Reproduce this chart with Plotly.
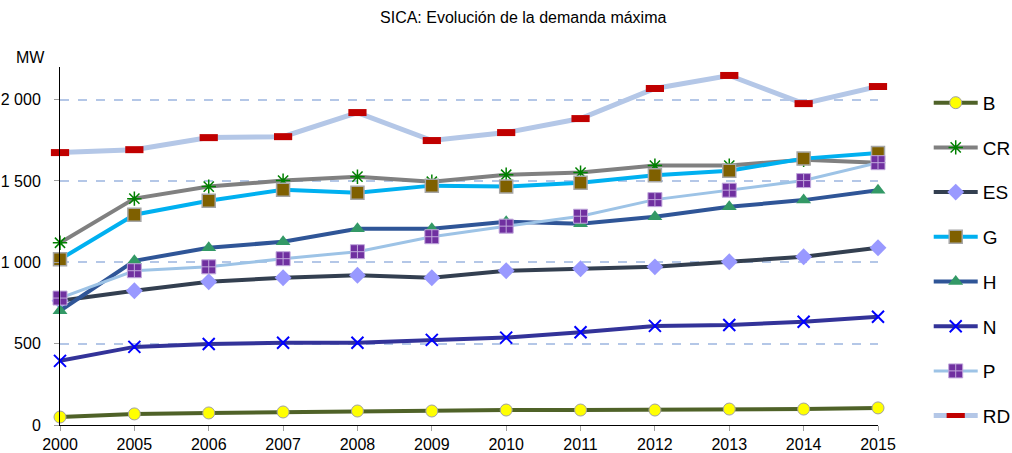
import plotly.graph_objects as go

years = ["2000", "2005", "2006", "2007", "2008", "2009", "2010", "2011", "2012", "2013", "2014", "2015"]

B  = [49, 68, 74, 80, 86, 86, 92, 92, 92, 98, 98, 105]
CR = [1120, 1391, 1465, 1502, 1526, 1495, 1538, 1551, 1594, 1594, 1630, 1612]
ES = [763, 825, 880, 905, 920, 905, 948, 960, 972, 1003, 1034, 1089]
G  = [1018, 1292, 1378, 1446, 1428, 1471, 1465, 1489, 1535, 1563, 1637, 1672]
H  = [702, 1009, 1089, 1126, 1206, 1206, 1249, 1237, 1280, 1341, 1382, 1443]
N  = [394, 480, 498, 505, 505, 523, 537, 570, 609, 615, 635, 665]
P  = [780, 948, 972, 1022, 1065, 1157, 1222, 1283, 1385, 1443, 1502, 1612]
RD = [1674, 1692, 1766, 1772, 1920, 1748, 1797, 1883, 2068, 2148, 1975, 2080]

ytick_vals = [0, 500, 1000, 1500, 2000]
ytick_text = ["0", "500", "1 000", "1 500", "2 000"]

series = [
    ("B", B, "#4f6228", 4, dict(symbol="circle", size=12, color="#ffff00", line=dict(color="#a0a0a0", width=1))),
    ("CR", CR, "#808080", 4, dict(symbol="asterisk-open", size=12, color="#008000", line=dict(color="#008000", width=1.5))),
    ("ES", ES, "#333f50", 4, dict(symbol="diamond", size=13, color="#9999ff", line=dict(color="#9999ff", width=0))),
    ("G", G, "#00b0f0", 4, dict(symbol="square", size=13, color="#7f6000", line=dict(color="#a6a6a6", width=1.5))),
    ("H", H, "#2f5597", 4, dict(symbol="triangle-up", size=13, color="#339966", line=dict(color="#339966", width=0))),
    ("N", N, "#333399", 4, dict(symbol="x-thin-open", size=12, color="#0000ff", line=dict(color="#0000ff", width=2))),
    ("P", P, "#9dc3e6", 3, dict(symbol="square-cross", size=14, color="#7030a0", line=dict(color="#c0a8dc", width=1))),
    ("RD", RD, "#b4c7e7", 5, dict(symbol="line-ew-open", size=13, color="#c00000", line=dict(color="#c00000", width=7))),
]

fig = go.Figure()
for name, vals, lc, lw, mk in series:
    fig.add_trace(go.Scatter(
        x=years, y=vals, name=name, mode="lines+markers", cliponaxis=False,
        line=dict(color=lc, width=lw), marker=mk, legendgroup=name,
    ))

fig.update_layout(
    width=1012, height=453,
    margin=dict(l=60, r=134, t=67, b=28, autoexpand=False),
    paper_bgcolor="white", plot_bgcolor="white",
    font=dict(family="Liberation Sans, Arial, sans-serif", size=16, color="black"),
    title=dict(text="SICA: Evolución de la demanda máxima", x=0.517, xref="container",
               y=0.9625, yref="container", yanchor="middle", font=dict(size=16)),
    showlegend=True,
    legend=dict(x=1.062, xanchor="left", y=0.953, yanchor="top", traceorder="grouped",
                tracegroupgap=17, itemwidth=44, font=dict(size=19), bgcolor="rgba(0,0,0,0)"),
    xaxis=dict(type="category", range=[0, 11], showgrid=False, showline=True, automargin=False,
               linecolor="black", linewidth=1, ticks="outside", ticklen=5, tickcolor="#a0a0a0",
               tickfont=dict(size=16)),
    yaxis=dict(range=[0, 2200], tickvals=ytick_vals, ticktext=ytick_text, showgrid=True, automargin=False,
               gridcolor="#b4c7e7", griddash="dash", gridwidth=1.5, showline=True,
               linecolor="black", linewidth=1, ticks="outside", ticklen=5, tickcolor="#a0a0a0",
               ticklabelstandoff=10, zeroline=False, tickfont=dict(size=16)),
    annotations=[dict(text="MW", xref="paper", yref="paper", x=-0.016, y=1.0, xanchor="right",
                      yanchor="middle", yshift=10, showarrow=False, font=dict(size=16))],
)

fig.write_html("out.html", config={"displayModeBar": False},
               post_script="document.body.style.margin='0';")
